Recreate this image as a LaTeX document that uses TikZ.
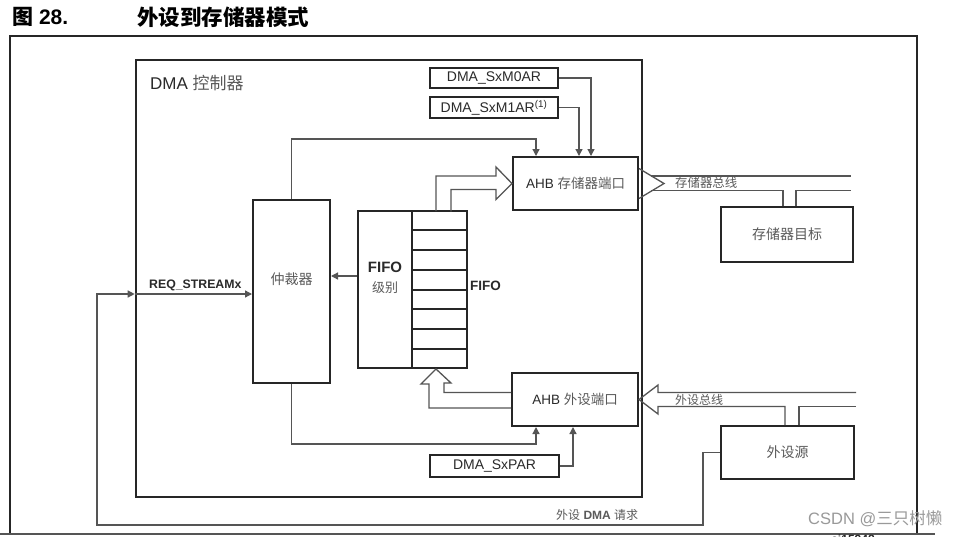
\documentclass[tikz,border=0pt]{standalone}
\usepackage{fontspec}
\setmainfont{Liberation Sans}
\newfontfamily\cjk{Noto Sans CJK SC}
\usetikzlibrary{arrows.meta,calc}
\definecolor{boxc}{HTML}{262626}
\definecolor{linec}{HTML}{555555}
\definecolor{txtc}{HTML}{2A2A2A}
\definecolor{cjkc}{HTML}{5A5A5A}
\tikzset{
  box/.style={draw=boxc,line width=2pt,inner sep=0pt,text=txtc},
  conn/.style={draw=linec,line width=1.3pt},
  hol/.style={draw=linec,line width=1.3pt,line join=miter},
  tip/.style={-{Triangle[length=7pt,width=7pt]}},
  lbl/.style={inner sep=0pt,text=txtc},
  clbl/.style={inner sep=0pt,text=cjkc}
}
\begin{document}
\begin{tikzpicture}[x=1pt,y=-1pt]
\useasboundingbox (0,0) rectangle (960,536);
\fill[white] (0,0) rectangle (960,536);
% title
\node[lbl,anchor=west,text=black] (t1) at (12,17) {\fontsize{21}{24}\selectfont{\cjk\bfseries 图} \bfseries 28.};
\node[lbl,anchor=west,text=black] (t2) at (137,17) {\fontsize{21.5}{24}\selectfont\cjk\bfseries 外设到存储器模式};
% outer frame
\draw[draw=boxc,line width=1.5pt] (10,533) -- (10,36) -- (917,36) -- (917,533);
\draw[draw=linec,line width=2pt] (0,533.5) -- (935,533.5);
% DMA controller
\node[box,line width=2.6pt,minimum width=506,minimum height=437] (dma) at (389,278.5) {};
\node[lbl,anchor=west] (dmal) at (150,83) {\fontsize{17}{20}\selectfont DMA {\cjk\color{cjkc}控制器}};
% registers
\node[box,minimum width=128,minimum height=20] (m0) at (494,78) {\fontsize{14}{16}\selectfont DMA\_SxM0AR};
\node[box,minimum width=128,minimum height=21] (m1) at (494,107.5) {\fontsize{14}{16}\selectfont DMA\_SxM1AR\textsuperscript{(1)}};
\node[box,minimum width=129,minimum height=22] (par) at (494.5,466) {\fontsize{14}{16}\selectfont DMA\_SxPAR};
% ports
\node[box,minimum width=125,minimum height=53] (memport) at (575.5,183.5) {\fontsize{13.5}{16}\selectfont AHB {\cjk\color{cjkc}存储器端口}};
\node[box,minimum width=126,minimum height=53] (perport) at (575,399.5) {\fontsize{13.5}{16}\selectfont AHB {\cjk\color{cjkc}外设端口}};
% arbiter
\node[box,minimum width=77,minimum height=183] (arb) at (291.5,291.5) {};
\node[clbl] (arbl) at (291.5,279) {\fontsize{14}{16}\selectfont\cjk 仲裁器};
% FIFO
\node[box,minimum width=54,minimum height=157] (fifolevel) at (385,289.5) {};
\node[box,minimum width=55,minimum height=157] (fifocells) at (439.5,289.5) {};
\foreach \i in {1,...,7}
  \draw[draw=boxc,line width=2pt] ($(fifocells.north west)!\i/8!(fifocells.south west)$) -- ($(fifocells.north east)!\i/8!(fifocells.south east)$);
\node[lbl] (fifol1) at (385,267) {\fontsize{15}{17}\selectfont\bfseries FIFO};
\node[clbl] (fifol2) at (385,288) {\fontsize{13}{15}\selectfont\cjk 级别};
\node[lbl,anchor=west] (fifor) at (470,286) {\fontsize{13.5}{16}\selectfont\bfseries FIFO};
% targets
\node[box,minimum width=132,minimum height=55] (memtgt) at (787,234.5) {\fontsize{14}{16}\selectfont\cjk\color{cjkc}存储器目标};
\node[box,minimum width=133,minimum height=53] (persrc) at (787.5,452.5) {\fontsize{14}{16}\selectfont\cjk\color{cjkc}外设源};
% register connectors
\draw[conn,tip] (m0.east) -| ($(memport.north west)+(79,0)$);
\draw[conn,tip] (m1.east) -| ($(memport.north west)+(67,0)$);
\draw[conn,tip] (arb.north) -- ++(0,-60) -| ($(memport.north west)+(24,0)$);
\draw[conn,tip] (arb.south) -- ++(0,60) -| ($(perport.south west)+(25,0)$);
\draw[conn,tip] (par.east) -| ($(perport.south west)+(62,0)$);
% fifo level -> arbiter
\draw[conn,tip] ([yshift=13.5pt]fifolevel.west) -- ([yshift=13.5pt]fifolevel.west -| arb.east);
% hollow arrow fifo -> memory port
\draw[hol] (memport.west) ++(-76,27.5) -- ++(0,-35) -- ++(60,0) -- ++(0,-9) -- (memport.west) -- ++(-16,16) -- ++(0,-10) -- ++(-45,0) -- ++(0,22);
% hollow arrow peripheral port -> fifo
\draw[hol] (perport.west) ++(0,-7) -- ++(-67,0) -- ++(0,-9.5) -- ++(7,0) -- ($(fifocells.south west)+(25,0)$) -- ++(-15,15) -- ++(8,0) -- ++(0,24) -- ++(82,0);
% memory bus
\draw[hol] (memport.east) ++(0,-15) -- ++(25,15) -- ++(-25,15);
\draw[conn] (memport.east) ++(12,-7.5) -- ++(200,0);
\draw[conn] (memport.east) ++(12,7) -| ($(memtgt.north west)+(63,0)$);
\draw[conn] ($(memtgt.north west)+(76,0)$) |- ($(memport.east)+(212,7)$);
\node[clbl,anchor=west] (mbus) at (675,183) {\fontsize{12.4}{14}\selectfont\cjk 存储器总线};
% peripheral bus
\draw[hol] (perport.east) ++(217,-7) -- ++(-198,0) -- ++(0,-7.5) -- (perport.east) -- ++(19,14.5) -- ++(0,-7.5) -| ($(persrc.north west)+(65,0)$);
\draw[conn] ($(persrc.north west)+(79,0)$) |- ($(perport.east)+(217,7)$);
\node[clbl,anchor=west] (pbus) at (675,400) {\fontsize{12}{14}\selectfont\cjk 外设总线};
% DMA request
\coordinate (reqin) at ([yshift=-2.5pt]arb.west);
\draw[conn,tip] (persrc.west) -- ++(-17,0) -- ++(0,72.5) -- ++(-606,0) |- (dma.west |- reqin);
\draw[conn,tip] (dma.west |- reqin) -- (reqin);
\node[lbl,anchor=west] (reql) at (149,285) {\fontsize{12.3}{14}\selectfont\bfseries REQ\_STREAMx};
\node[clbl,anchor=west] (dreq) at (556,515) {\fontsize{12}{14}\selectfont{\cjk 外设} \bfseries DMA {\cjk\mdseries 请求}};
% watermark and id
\node[inner sep=0pt,anchor=west,text=black!40] (wm) at (808,519) {\fontsize{16.5}{18}\selectfont CSDN @{\cjk 三只树懒}};
\node[inner sep=0pt,text=txtc] (aid) at (853,539) {\fontsize{12}{14}\selectfont\bfseries ai15948};
\end{tikzpicture}
\end{document}
